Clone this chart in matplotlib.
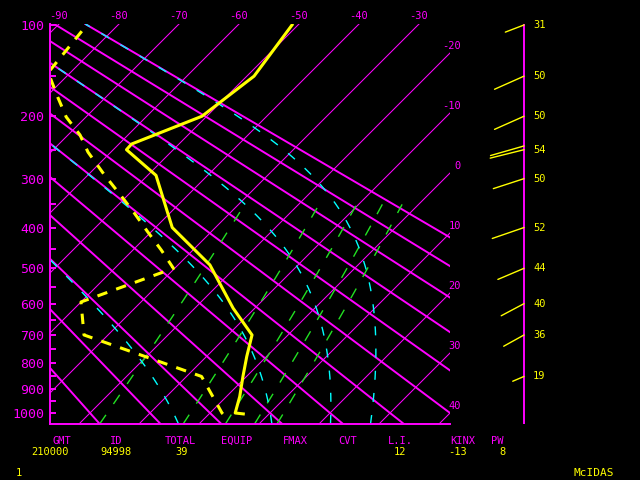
import numpy as np
import matplotlib
matplotlib.use('Agg')
import matplotlib.pyplot as plt

# sounding, station 94998, 21 00Z
TEMP_P = [1004, 1000, 930, 850, 775, 700, 614, 491, 400, 294, 250, 241, 200, 150, 100]
TEMP_T = [5.7, 4.2, 2.2, -0.6, -3.3, -6.0, -13.6, -24.7, -37.2, -48.6, -57.8, -57.9, -50.8, -48.8, -51.0]

DEW_P = [1004, 1000, 850, 700, 595, 500, 453, 408, 364, 325, 293, 254, 227, 201, 175, 146, 100]
DEW_T = [2.3, 2.0, -7.5, -34.0, -40.0, -30.2, -35.3, -40.8, -46.5, -52.2, -57.3, -63.8, -68.0, -73.3, -78.0, -83.7, -85.2]

WIND_P = [100, 150, 200, 244, 250, 300, 400, 500, 600, 700, 850]
WIND_DIR = [249, 246, 246, 254, 256, 252, 251, 247, 242, 241, 247]
WIND_SPD = [31, 50, 50, 54, 54, 50, 52, 44, 40, 36, 19]
WIND_LABELS = ['31', '50', '50', '', '54', '50', '52', '44', '40', '36', '19']

# background lines of the diagram
PRESS_LABELS = [100, 200, 300, 400, 500, 600, 700, 800, 900, 1000]
PRESS_MINOR = [150, 250, 350, 450, 550, 650, 750, 850, 950]
ISOTHERMS = list(range(-90, 50, 10))
DRY_THETA = [253.15 + 10 * i for i in range(12)]
MOIST_THETAE = [273.15, 303.15, 333.15, 363.15]
MIX_RATIOS = [1, 3, 5, 7, 9]

HEADERS = ['GMT', 'ID', 'TOTAL', 'EQUIP', 'FMAX', 'CVT', 'L.I.', 'KINX', 'PW']
VALUES = ['210000', '94998', '39', '', '', '', '12', '-13', '8']

MAG = '#ff00ff'
YEL = '#ffff00'
CYAN = '#00ffff'
GREEN = '#22e022'
FONT = 'DejaVu Sans Mono'

K = 0.286
P_BOT = 1048.7
P_TOP = 99.2
SKEW = 111.55 / 6.0
X_LEFT = -24.83
X_RIGHT = 41.83


def skewX(t, p):
    return np.asarray(t) + SKEW * (P_BOT ** K - np.asarray(p, dtype=float) ** K)


def fwd(p):
    return np.sign(p) * np.abs(p) ** K


def inv(y):
    return np.sign(y) * np.abs(y) ** (1.0 / K)


def moistT(thetae, p):
    tgrid = np.linspace(-150, 60, 4201)
    tk = tgrid + 273.15
    es = 6.112 * np.exp(17.67 * tgrid / (tgrid + 243.5))
    ok = es < 0.2 * p
    rs = 0.622 * es[ok] / (p - es[ok])
    the = tk[ok] * (1000.0 / p) ** K * np.exp(2.5e6 * rs / (1004.0 * tk[ok]))
    return np.interp(thetae, the, tgrid[ok])


def mixT(w, p):
    es = w * p / (622.0 + w)
    a = np.log(es / 6.112)
    return 243.5 * a / (17.67 - a)


plt.rcParams['lines.scale_dashes'] = False
fig = plt.figure(figsize=(6.4, 4.8), dpi=100, facecolor='black')
ax = fig.add_axes([50 / 640, 56 / 480, 400 / 640, 400 / 480])
ax.set_facecolor('black')
ax.set_yscale('function', functions=(fwd, inv))
ax.set_ylim(P_BOT, P_TOP)
ax.set_xlim(X_LEFT, X_RIGHT)

pres = np.linspace(P_BOT, P_TOP, 200)

for t in ISOTHERMS:
    ax.plot(skewX(t, [P_BOT, P_TOP]), [P_BOT, P_TOP], color=MAG, lw=0.75)

for th in DRY_THETA:
    tt = th * (pres / 1000.0) ** K - 273.15
    ax.plot(skewX(tt, pres), pres, color=MAG, lw=1.4)

pmix = np.linspace(P_BOT, 350, 100)
for w in MIX_RATIOS:
    ax.plot(skewX(mixT(w, pmix), pmix), pmix, color=GREEN, lw=1.0,
            linestyle=(0, (8, 9.5)))

for the in MOIST_THETAE:
    tt = np.array([moistT(the, p) for p in pres])
    ax.plot(skewX(tt, pres), pres, color=CYAN, lw=1.0, linestyle=(0, (6.5, 9.5)))

ax.plot(skewX(TEMP_T, TEMP_P), TEMP_P, color=YEL, lw=2.2)
ax.plot(skewX(DEW_T, DEW_P), DEW_P, color=YEL, lw=2.2, linestyle=(0, (7.5, 6.8)))

# isotherm labels
for t in ISOTHERMS:
    xtop = skewX(t, P_TOP)
    if xtop <= X_RIGHT:
        ax.annotate(str(t), xy=(xtop, P_TOP), xytext=(0, 8), textcoords='offset pixels',
                    ha='center', va='center', color=MAG, fontsize=7.5, family=FONT,
                    annotation_clip=False)
    else:
        pk = P_BOT ** K - (X_RIGHT - t) / SKEW
        ax.annotate(str(t), xy=(X_RIGHT, pk ** (1.0 / K)), xytext=(11, 7),
                    textcoords='offset pixels', ha='right', va='center', color=MAG,
                    fontsize=7.5, family=FONT, annotation_clip=False)

ax.set_xticks([])
ax.set_yticks(PRESS_LABELS)
ax.set_yticklabels([str(p) for p in PRESS_LABELS], color=MAG, fontsize=9.5, family=FONT)
ax.set_yticks(PRESS_MINOR, minor=True)
ax.yaxis.set_minor_formatter(plt.NullFormatter())
ax.tick_params(axis='y', which='both', direction='in', length=4.5, width=1.4,
               color=MAG, pad=4)
for side in ['top', 'right']:
    ax.spines[side].set_visible(False)
for side in ['left', 'bottom']:
    ax.spines[side].set_color(MAG)
    ax.spines[side].set_linewidth(1.4)

# wind column
ax2 = fig.add_axes([0, 56 / 480, 1, 400 / 480])
ax2.set_yscale('function', functions=(fwd, inv))
ax2.set_ylim(P_BOT, P_TOP)
ax2.set_xlim(0, 640)
ax2.axis('off')
ax2.axvline(524, color=MAG, lw=1.4)
for p, d, s, lab in zip(WIND_P, WIND_DIR, WIND_SPD, WIND_LABELS):
    L = 0.645 * s
    dx = L * np.sin(np.deg2rad(d))
    dy = L * np.cos(np.deg2rad(d))
    ax2.annotate('', xy=(524, p), xytext=(dx, dy), textcoords='offset pixels',
                 arrowprops=dict(arrowstyle='-', color=YEL, lw=1.0, shrinkA=0, shrinkB=0))
    if lab:
        ax2.annotate(lab, xy=(524, p), xytext=(9, 0), textcoords='offset pixels',
                     ha='left', va='center', color=YEL, fontsize=7.5, family=FONT)

# bottom info lines
head_x = [62, 116, 180, 237, 295, 348, 400, 463, 497]
val_x = [50, 116, 182, 237, 295, 348, 400, 458, 503]
for h, v, hx, vx in zip(HEADERS, VALUES, head_x, val_x):
    fig.text(hx / 640, 1 - 441 / 480, h, ha='center', va='center', color=MAG,
             fontsize=7.5, family=FONT)
    fig.text(vx / 640, 1 - 452 / 480, v, ha='center', va='center', color=YEL,
             fontsize=7.5, family=FONT)
fig.text(19 / 640, 1 - 473 / 480, '1', ha='center', va='center', color=YEL,
         fontsize=7.5, family=FONT)
fig.text(594 / 640, 1 - 473 / 480, 'McIDAS', ha='center', va='center', color=YEL,
         fontsize=8, family=FONT)

fig.savefig('out.png', dpi=100, facecolor='black')
